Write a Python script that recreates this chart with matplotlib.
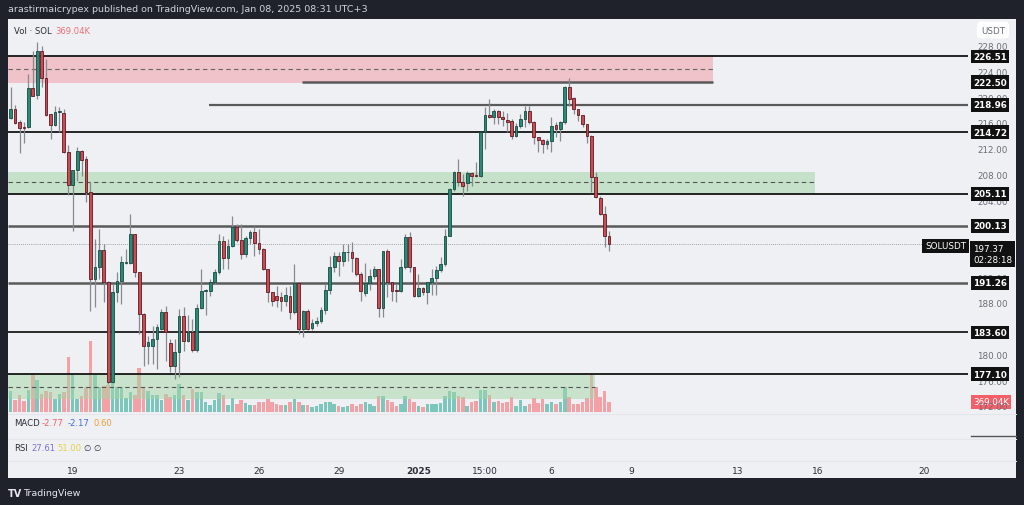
import matplotlib.pyplot as plt
from matplotlib.patches import Rectangle
from matplotlib.transforms import blended_transform_factory as blend

# 4h candles, Dec 16 16:00 -> Jan 08 04:00
opens = [216.87, 218.32, 216.25, 215.45, 215.52, 221.53, 220.5, 227.39, 223.09, 217.54,
         215.83, 217.8, 217.7, 211.58, 206.5, 208.83, 211.84, 210.5, 205.36, 191.88,
         193.8, 196.4, 191.36, 175.9, 189.81, 191.62, 194.4, 194.4, 198.88, 192.92,
         186.5, 181.5, 181.41, 182.55, 184.1, 186.7, 181.9, 178.4, 180.47, 186.18,
         182.29, 183.6, 180.8, 187.32, 190.0, 190.07, 191.36, 192.92, 197.84, 195.09,
         197.06, 199.92, 198.0, 195.8, 198.2, 199.24, 197.48, 196.6, 193.44, 189.8,
         189.2, 189.0, 188.4, 189.3, 186.7, 191.26, 184.1, 186.97, 184.2, 185.1,
         185.3, 187.1, 190.2, 193.7, 195.4, 194.7, 196.0, 196.0, 195.1, 192.6,
         189.7, 191.26, 192.3, 193.44, 187.3, 196.2, 191.36, 190.07, 190.07, 193.7,
         198.36, 193.7, 189.2, 190.43, 189.9, 191.36, 191.98, 193.2, 194.2, 198.6,
         205.88, 208.5, 206.9, 206.8, 208.3, 207.95, 207.9, 214.69, 217.39, 217.0,
         218.06, 217.02, 216.66, 216.4, 214.17, 215.62, 216.77, 218.06, 216.35, 213.9,
         213.55, 212.87, 213.4, 215.75, 215.21, 216.25, 221.69, 219.98, 218.32, 217.39,
         215.99, 214.17, 207.69, 204.43, 202.0, 198.62]
highs = [221.69, 218.94, 216.66, 216.24, 223.76, 227.39, 228.79, 228.17, 226.1, 217.6,
         218.84, 218.58, 218.32, 212.72, 208.9, 212.36, 211.9, 211.0, 206.91, 198.1,
         199.66, 197.32, 191.5, 191.1, 192.92, 195.51, 196.5, 202.0, 198.9, 192.95,
         186.6, 183.0, 184.6, 184.9, 187.2, 187.7, 182.6, 182.55, 187.2, 187.47,
         186.2, 185.6, 188.0, 193.44, 190.3, 191.9, 193.4, 198.9, 198.6, 198.1,
         201.7, 200.4, 200.4, 198.6, 199.5, 200.07, 199.7, 196.7, 193.5, 189.9,
         190.8, 189.8, 190.6, 190.8, 194.2, 191.3, 187.0, 187.2, 185.7, 186.0,
         187.47, 191.1, 195.5, 196.0, 196.0, 197.3, 197.3, 197.6, 195.3, 192.9,
         194.3, 193.4, 193.96, 193.5, 196.3, 196.5, 191.4, 191.1, 195.0, 198.9,
         199.2, 193.8, 192.6, 190.6, 191.4, 193.4, 193.96, 195.25, 199.66, 206.1,
         208.7, 210.5, 208.2, 208.6, 208.57, 210.0, 214.7, 218.58, 219.9, 218.32,
         218.1, 218.06, 217.7, 216.7, 216.2, 217.5, 218.84, 218.84, 216.5, 214.0,
         213.6, 213.65, 217.1, 216.25, 216.5, 221.95, 223.09, 220.2, 218.32, 217.4,
         216.0, 214.2, 208.47, 204.84, 203.29, 199.4]
lows = [216.7, 216.0, 211.42, 212.98, 215.3, 220.3, 219.87, 221.69, 217.2, 213.65,
        215.6, 214.79, 211.5, 204.94, 199.4, 207.17, 207.85, 203.8, 186.96, 187.47,
        191.9, 188.25, 175.6, 175.7, 188.25, 187.99, 194.2, 194.2, 192.14, 183.33,
        178.4, 178.6, 178.6, 177.9, 183.9, 179.18, 177.4, 176.3, 176.6, 180.7,
        182.0, 180.6, 180.6, 187.2, 186.2, 189.3, 191.1, 192.7, 193.4, 193.4,
        196.8, 197.6, 195.0, 195.3, 197.3, 195.5, 195.8, 193.2, 188.25, 187.7,
        187.5, 186.9, 187.7, 185.7, 186.4, 183.3, 182.8, 183.9, 183.9, 184.5,
        185.1, 186.5, 189.6, 192.9, 192.4, 193.9, 194.7, 192.9, 192.3, 188.5,
        189.3, 190.2, 191.9, 185.9, 185.9, 189.0, 188.5, 188.3, 189.8, 193.4,
        192.9, 189.0, 189.1, 189.4, 188.0, 189.4, 189.4, 192.9, 193.96, 198.5,
        205.6, 206.4, 204.8, 205.6, 206.4, 207.8, 207.8, 212.1, 216.9, 215.99,
        215.99, 215.7, 214.7, 213.65, 213.9, 215.4, 215.5, 216.0, 212.9, 211.6,
        211.4, 212.1, 211.6, 213.9, 213.4, 216.0, 218.84, 217.5, 216.5, 215.5,
        213.04, 205.36, 204.43, 201.84, 196.8, 196.29]
closes = [218.32, 216.14, 215.31, 215.35, 221.53, 220.39, 227.39, 223.09, 217.39, 215.83,
          217.9, 217.9, 211.58, 206.5, 208.83, 211.84, 210.44, 205.36, 191.88, 193.8,
          196.44, 191.36, 175.81, 189.81, 191.62, 194.47, 194.5, 198.88, 192.92, 186.44,
          181.51, 182.0, 182.55, 184.36, 186.7, 183.59, 178.4, 180.47, 186.18, 182.29,
          183.6, 180.8, 187.32, 190.07, 190.1, 191.36, 192.92, 197.84, 195.09, 197.06,
          199.92, 198.0, 195.8, 198.2, 199.24, 197.48, 196.6, 193.44, 189.8, 188.51,
          188.6, 188.4, 189.4, 186.7, 191.26, 184.1, 186.97, 184.1, 185.1, 185.3,
          187.1, 190.2, 193.7, 195.4, 194.7, 196.0, 196.05, 195.1, 192.6, 190.07,
          191.26, 192.3, 193.44, 187.3, 196.2, 191.36, 190.07, 190.0, 193.7, 198.36,
          193.7, 189.2, 190.43, 189.9, 191.36, 191.98, 193.2, 194.2, 198.6, 205.88,
          208.5, 206.9, 206.4, 208.31, 207.95, 207.9, 214.69, 217.39, 217.1, 218.06,
          217.02, 216.7, 216.25, 214.17, 215.62, 216.77, 218.06, 216.35, 213.91, 213.55,
          212.87, 213.4, 215.62, 215.21, 216.25, 221.69, 219.86, 218.32, 217.39, 215.99,
          214.17, 207.69, 204.58, 202.0, 198.62, 197.37]
volumes = [775, 443, 627, 406, 812, 1439, 1181, 664, 775, 738,
           480, 664, 738, 2030, 1439, 480, 590, 923, 2620, 1365,
           923, 959, 996, 1144, 923, 923, 517, 738, 627, 1624,
           923, 775, 627, 627, 443, 664, 554, 627, 1033, 627,
           443, 849, 738, 738, 369, 258, 443, 701, 627, 258,
           517, 295, 443, 332, 258, 258, 369, 369, 480, 369,
           295, 258, 258, 369, 480, 369, 258, 258, 185, 221,
           295, 369, 369, 295, 221, 185, 221, 295, 221, 295,
           369, 295, 221, 590, 590, 443, 369, 221, 295, 590,
           480, 369, 221, 185, 295, 295, 295, 332, 590, 775,
           738, 590, 554, 221, 369, 406, 812, 812, 627, 369,
           406, 332, 369, 554, 221, 443, 221, 295, 517, 332,
           480, 295, 369, 295, 369, 923, 554, 295, 295, 369,
           517, 1402, 923, 554, 775, 369.04]

levels = [226.51, 222.50, 218.96, 214.72, 205.11, 200.13, 191.26, 183.60, 177.10]
last_price = 197.37
price_ticks = [172, 176, 180, 188, 192, 204, 208, 212, 216, 220, 224, 228]
day_ticks = [14, 38, 56, 74, 92, 107, 122, 140, 164, 182, 206]
day_labels = ['19', '23', '26', '29', '2025', '15:00', '6', '9', '13', '16', '20']

W, H = 1024, 506
fig = plt.figure(figsize=(W / 100, H / 100), dpi=100, facecolor='#1f222a')
plt.rcParams['font.family'] = ['DejaVu Sans']


def fx(x):
    return x / W


def fy(y):
    return 1 - y / H


# light panel
fig.patches.append(Rectangle((fx(8), fy(479)), fx(1016) - fx(8), fy(20) - fy(479),
                             transform=fig.transFigure, facecolor='#eff0f3', edgecolor='none', zorder=0))

ax = fig.add_axes([fx(8), fy(415), fx(968) - fx(8), fy(20) - fy(415)])
vax = ax.twinx()
ax.set_zorder(2)
vax.set_zorder(1)
ax.patch.set_visible(False)
vax.patch.set_visible(False)

px_per_unit = 6.43
ax.set_xlim(-0.6, 215.96)
ax.set_ylim(226.51 - (415 - 57.3) / px_per_unit, 226.51 + (57.3 - 20) / px_per_unit)
k = 36.9
vax.set_ylim(-2 * k, 393 * k)
for a in (ax, vax):
    a.axis('off')

n = len(opens)
xs = list(range(n))
up = [c >= o for o, c in zip(opens, closes)]

# volume
vcol = ['#7cc6bc' if u else '#f3a0a7' for u in up]
vax.bar(xs, volumes, width=0.8, color=vcol, linewidth=0)

# zones
ax.fill_between([-0.6, 158.4], 222.36, 226.51, color='#f28b9a', alpha=0.45, lw=0, zorder=1)
ax.hlines(224.49, -0.6, 158.4, colors='#666', linestyles=(0, (4, 3)), lw=0.8, zorder=2)
ax.fill_between([-0.6, 181.4], 205.11, 208.57, color='#a5d6a7', alpha=0.55, lw=0, zorder=1)
ax.hlines(206.91, -0.6, 181.4, colors='#555', linestyles=(0, (4, 3)), lw=0.8, zorder=2)
ax.fill_between([-0.6, 131.8], 173.2, 177.10, color='#a5d6a7', alpha=0.5, lw=0, zorder=1)
ax.hlines(175.08, -0.6, 131.8, colors='#555', linestyles=(0, (4, 3)), lw=0.8, zorder=2)

# level lines
black, grey = '#151515', '#5a5a5a'
ax.hlines(226.51, -0.6, 216, colors=black, lw=1.3, zorder=3)
ax.hlines(222.50, 65.7, 158.4, colors=grey, lw=1.8, zorder=3)
ax.hlines(218.96, 44.7, 216, colors=grey, lw=1.6, zorder=3)
ax.hlines(214.72, -0.6, 216, colors=black, lw=1.3, zorder=3)
ax.hlines(205.11, -0.6, 216, colors=black, lw=1.3, zorder=3)
ax.hlines(200.13, -0.6, 216, colors=grey, lw=1.8, zorder=3)
ax.hlines(191.26, -0.6, 216, colors=grey, lw=1.8, zorder=3)
ax.hlines(183.60, -0.6, 216, colors='#2a2a2a', lw=1.4, zorder=3)
ax.hlines(177.10, -0.6, 216, colors=black, lw=1.3, zorder=3)
ax.hlines(last_price, -0.6, 216, colors='#8a8a8a', lw=0.6, linestyles=(0, (1, 1.5)), zorder=3)

# candles
ax.vlines(xs, lows, highs, colors='#86898f', lw=0.9, zorder=4)
bodies = [max(abs(c - o), 0.15) for o, c in zip(opens, closes)]
bottoms = [min(o, c) for o, c in zip(opens, closes)]
ax.bar(xs, bodies, bottom=bottoms, width=0.62,
       color=['#2b8a77' if u else '#cc4a54' for u in up],
       edgecolor=['#164b41' if u else '#5e1a20' for u in up], linewidth=0.6, zorder=5)

# price scale
tr = blend(fig.transFigure, ax.transData)
for p in price_ticks:
    ax.text(fx(977), p, f'{p:.2f}', transform=tr, fontsize=6.3, color='#6a6d78',
            va='center', ha='left', clip_on=False, zorder=6)
for lv in levels:
    ax.text(fx(973), lv, f'{lv:.2f}', transform=tr, fontsize=6.3, color='white', weight='bold',
            va='center', ha='left', clip_on=False, zorder=8,
            bbox=dict(boxstyle='square,pad=0.25', fc='#111111', ec='none'))
ax.text(fx(973), last_price, f'{last_price:.2f}\n02:28:18', transform=tr, fontsize=6.3,
        color='white', va='top', ha='left', clip_on=False, zorder=8, linespacing=1.3,
        bbox=dict(boxstyle='square,pad=0.35', fc='#111111', ec='none'))
ax.text(fx(966), last_price - 0.35, 'SOLUSDT', transform=tr, fontsize=6.3, color='white',
        va='center', ha='right', clip_on=False, zorder=8,
        bbox=dict(boxstyle='square,pad=0.3', fc='#111111', ec='none'))
vtr = blend(fig.transFigure, vax.transData)
vax.text(fx(973), volumes[-1], f'{volumes[-1]:.2f}K', transform=vtr, fontsize=6.3, color='white',
         va='center', ha='left', clip_on=False, zorder=8,
         bbox=dict(boxstyle='square,pad=0.25', fc='#f4606a', ec='none'))
fig.text(fx(993), fy(31), 'USDT', fontsize=6.3, color='#6a6d78', ha='center', va='center',
         bbox=dict(boxstyle='round,pad=0.45', fc='white', ec='none'))

# time axis
ttr = blend(ax.transData, fig.transFigure)
for t, lab in zip(day_ticks, day_labels):
    ax.text(t, fy(472), lab, transform=ttr, fontsize=6.5, color='#2a2e39', ha='center', va='center',
            weight='bold' if lab == '2025' else 'normal', clip_on=False)

# pane separators
for yy in (415, 440, 462):
    fig.add_artist(plt.Line2D([fx(8), fx(1016)], [fy(yy), fy(yy)], color='#e4e6ec', lw=0.8))
fig.add_artist(plt.Line2D([fx(971), fx(1016)], [fy(437), fy(437)], color='#555', lw=1.0))


# legends in panes
def seq(x, y, parts, size=6.1):
    for txt, col, dx in parts:
        fig.text(fx(x + dx), fy(y), txt, fontsize=size, color=col, ha='left', va='center')


seq(14, 31, [('Vol · SOL', '#2a2e39', 0), ('369.04K', '#ef6f78', 41)])
seq(14, 424, [('MACD', '#2a2e39', 0), ('-2.77', '#f06070', 28), ('-2.17', '#3d6fe0', 54),
              ('0.60', '#f59a3a', 80)])
seq(14, 449, [('RSI', '#2a2e39', 0), ('27.61', '#7e6fd6', 17), ('51.00', '#e8cf4a', 43),
              ('∅', '#2a2e39', 69), ('∅', '#2a2e39', 79)])

# header and footer
fig.text(fx(8), fy(10), 'arastirmaicrypex published on TradingView.com, Jan 08, 2025 08:31 UTC+3',
         fontsize=6.8, color='#d1d4dc', ha='left', va='center')
fig.text(fx(8), fy(494), 'TV', fontsize=7, color='#e6e8ee', weight='bold', ha='left', va='center')
fig.text(fx(23), fy(494), 'TradingView', fontsize=6.8, color='#e6e8ee', ha='left', va='center')

fig.savefig('out.png', dpi=100, facecolor=fig.get_facecolor())
